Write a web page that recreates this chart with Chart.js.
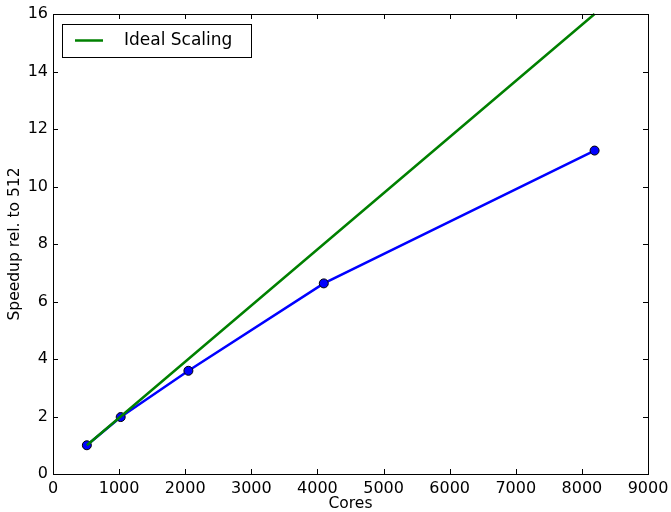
<!DOCTYPE html>
<html>
<head>
<meta charset="UTF-8" />
<title>Speedup</title>
<script src="https://cdn.jsdelivr.net/npm/chart.js"></script>
<style>
  html, body { margin: 0; padding: 0; background: #fff; }
  #wrap { width: 671px; height: 512px; }
</style>
</head>
<body>
<div id="wrap"><canvas id="c" width="671" height="512"></canvas></div>
<script>
const cores = [512, 1024, 2048, 4096, 8192];
const speedup = [1, 1.98, 3.59, 6.63, 11.25];
const ideal = [1, 2, 4, 8, 16];

const xTicks = [0, 1000, 2000, 3000, 4000, 5000, 6000, 7000, 8000, 9000];
const yTicks = [0, 2, 4, 6, 8, 10, 12, 14, 16];

const FONT = 'DejaVu Sans';

// frame, inward ticks on all sides, legend box
const mplFrame = {
  id: 'mplFrame',
  afterDraw(chart) {
    const ctx = chart.ctx, a = chart.chartArea;
    const xs = chart.scales.x, ys = chart.scales.y;
    ctx.save();
    ctx.strokeStyle = '#000';
    ctx.lineWidth = 1;
    xTicks.forEach(v => {
      const px = Math.round(xs.getPixelForValue(v)) + 0.5;
      ctx.beginPath();
      ctx.moveTo(px, a.bottom); ctx.lineTo(px, a.bottom - 5);
      ctx.moveTo(px, a.top); ctx.lineTo(px, a.top + 5);
      ctx.stroke();
    });
    yTicks.forEach(v => {
      const py = Math.round(ys.getPixelForValue(v)) + 0.5;
      ctx.beginPath();
      ctx.moveTo(a.left, py); ctx.lineTo(a.left + 5, py);
      ctx.moveTo(a.right, py); ctx.lineTo(a.right - 5, py);
      ctx.stroke();
    });
    ctx.strokeRect(Math.round(a.left) + 0.5, Math.round(a.top) + 0.5,
                   Math.round(a.right - a.left), Math.round(a.bottom - a.top));

    // legend
    const lx = a.left + 9, ly = a.top + 10;
    ctx.fillStyle = '#fff';
    ctx.fillRect(lx, ly, 189, 33);
    ctx.strokeRect(lx + 0.5, ly + 0.5, 189, 33);
    ctx.strokeStyle = '#008000';
    ctx.lineWidth = 2.5;
    ctx.beginPath();
    ctx.moveTo(lx + 13, ly + 16.5); ctx.lineTo(lx + 41, ly + 16.5);
    ctx.stroke();
    ctx.fillStyle = '#000';
    ctx.font = '17px "' + FONT + '"';
    ctx.textBaseline = 'middle';
    ctx.fillText('Ideal Scaling', lx + 62, ly + 17);
    ctx.restore();
  }
};

new Chart(document.getElementById('c'), {
  type: 'line',
  data: {
    datasets: [
      {
        label: 'Ideal Scaling',
        data: cores.map((c, i) => ({ x: c, y: ideal[i] })),
        borderColor: '#008000',
        borderWidth: 2.5,
        pointRadius: 0,
        tension: 0
      },
      {
        label: 'Speedup',
        data: cores.map((c, i) => ({ x: c, y: speedup[i] })),
        borderColor: '#0000ff',
        borderWidth: 2.5,
        pointRadius: 4.5,
        pointBackgroundColor: '#0000ff',
        pointBorderColor: '#000',
        pointBorderWidth: 1,
        tension: 0
      }
    ]
  },
  options: {
    responsive: false,
    animation: false,
    clip: false,
    layout: { padding: { top: 14, right: 23, left: 0, bottom: 0 } },
    plugins: { legend: { display: false }, tooltip: { enabled: false } },
    scales: {
      x: {
        type: 'linear',
        min: 0, max: 9000,
        afterBuildTicks: s => { s.ticks = xTicks.map(v => ({ value: v })); },
        afterFit: s => { s.height = 38; s.paddingRight = 0; s.paddingLeft = 0; },
        grid: { display: false, drawTicks: false },
        border: { display: false },
        ticks: { color: '#000', font: { family: FONT, size: 16 }, padding: 5, maxRotation: 0, callback: v => String(v) },
        title: { display: true, text: 'Cores', color: '#000', font: { family: FONT, size: 15.5, lineHeight: 1 }, padding: { top: -2, bottom: 0 } }
      },
      y: {
        type: 'linear',
        min: 0, max: 16,
        afterBuildTicks: s => { s.ticks = yTicks.map(v => ({ value: v })); },
        afterFit: s => { s.width = 53; s.paddingTop = 0; s.paddingBottom = 0; },
        grid: { display: false, drawTicks: false },
        border: { display: false },
        ticks: { color: '#000', font: { family: FONT, size: 16 }, padding: 5, callback: v => String(v) },
        title: { display: true, text: 'Speedup rel. to 512', color: '#000', font: { family: FONT, size: 15.5 }, padding: { top: 6, bottom: 0 } }
      }
    }
  },
  plugins: [mplFrame]
});
</script>
</body>
</html>
